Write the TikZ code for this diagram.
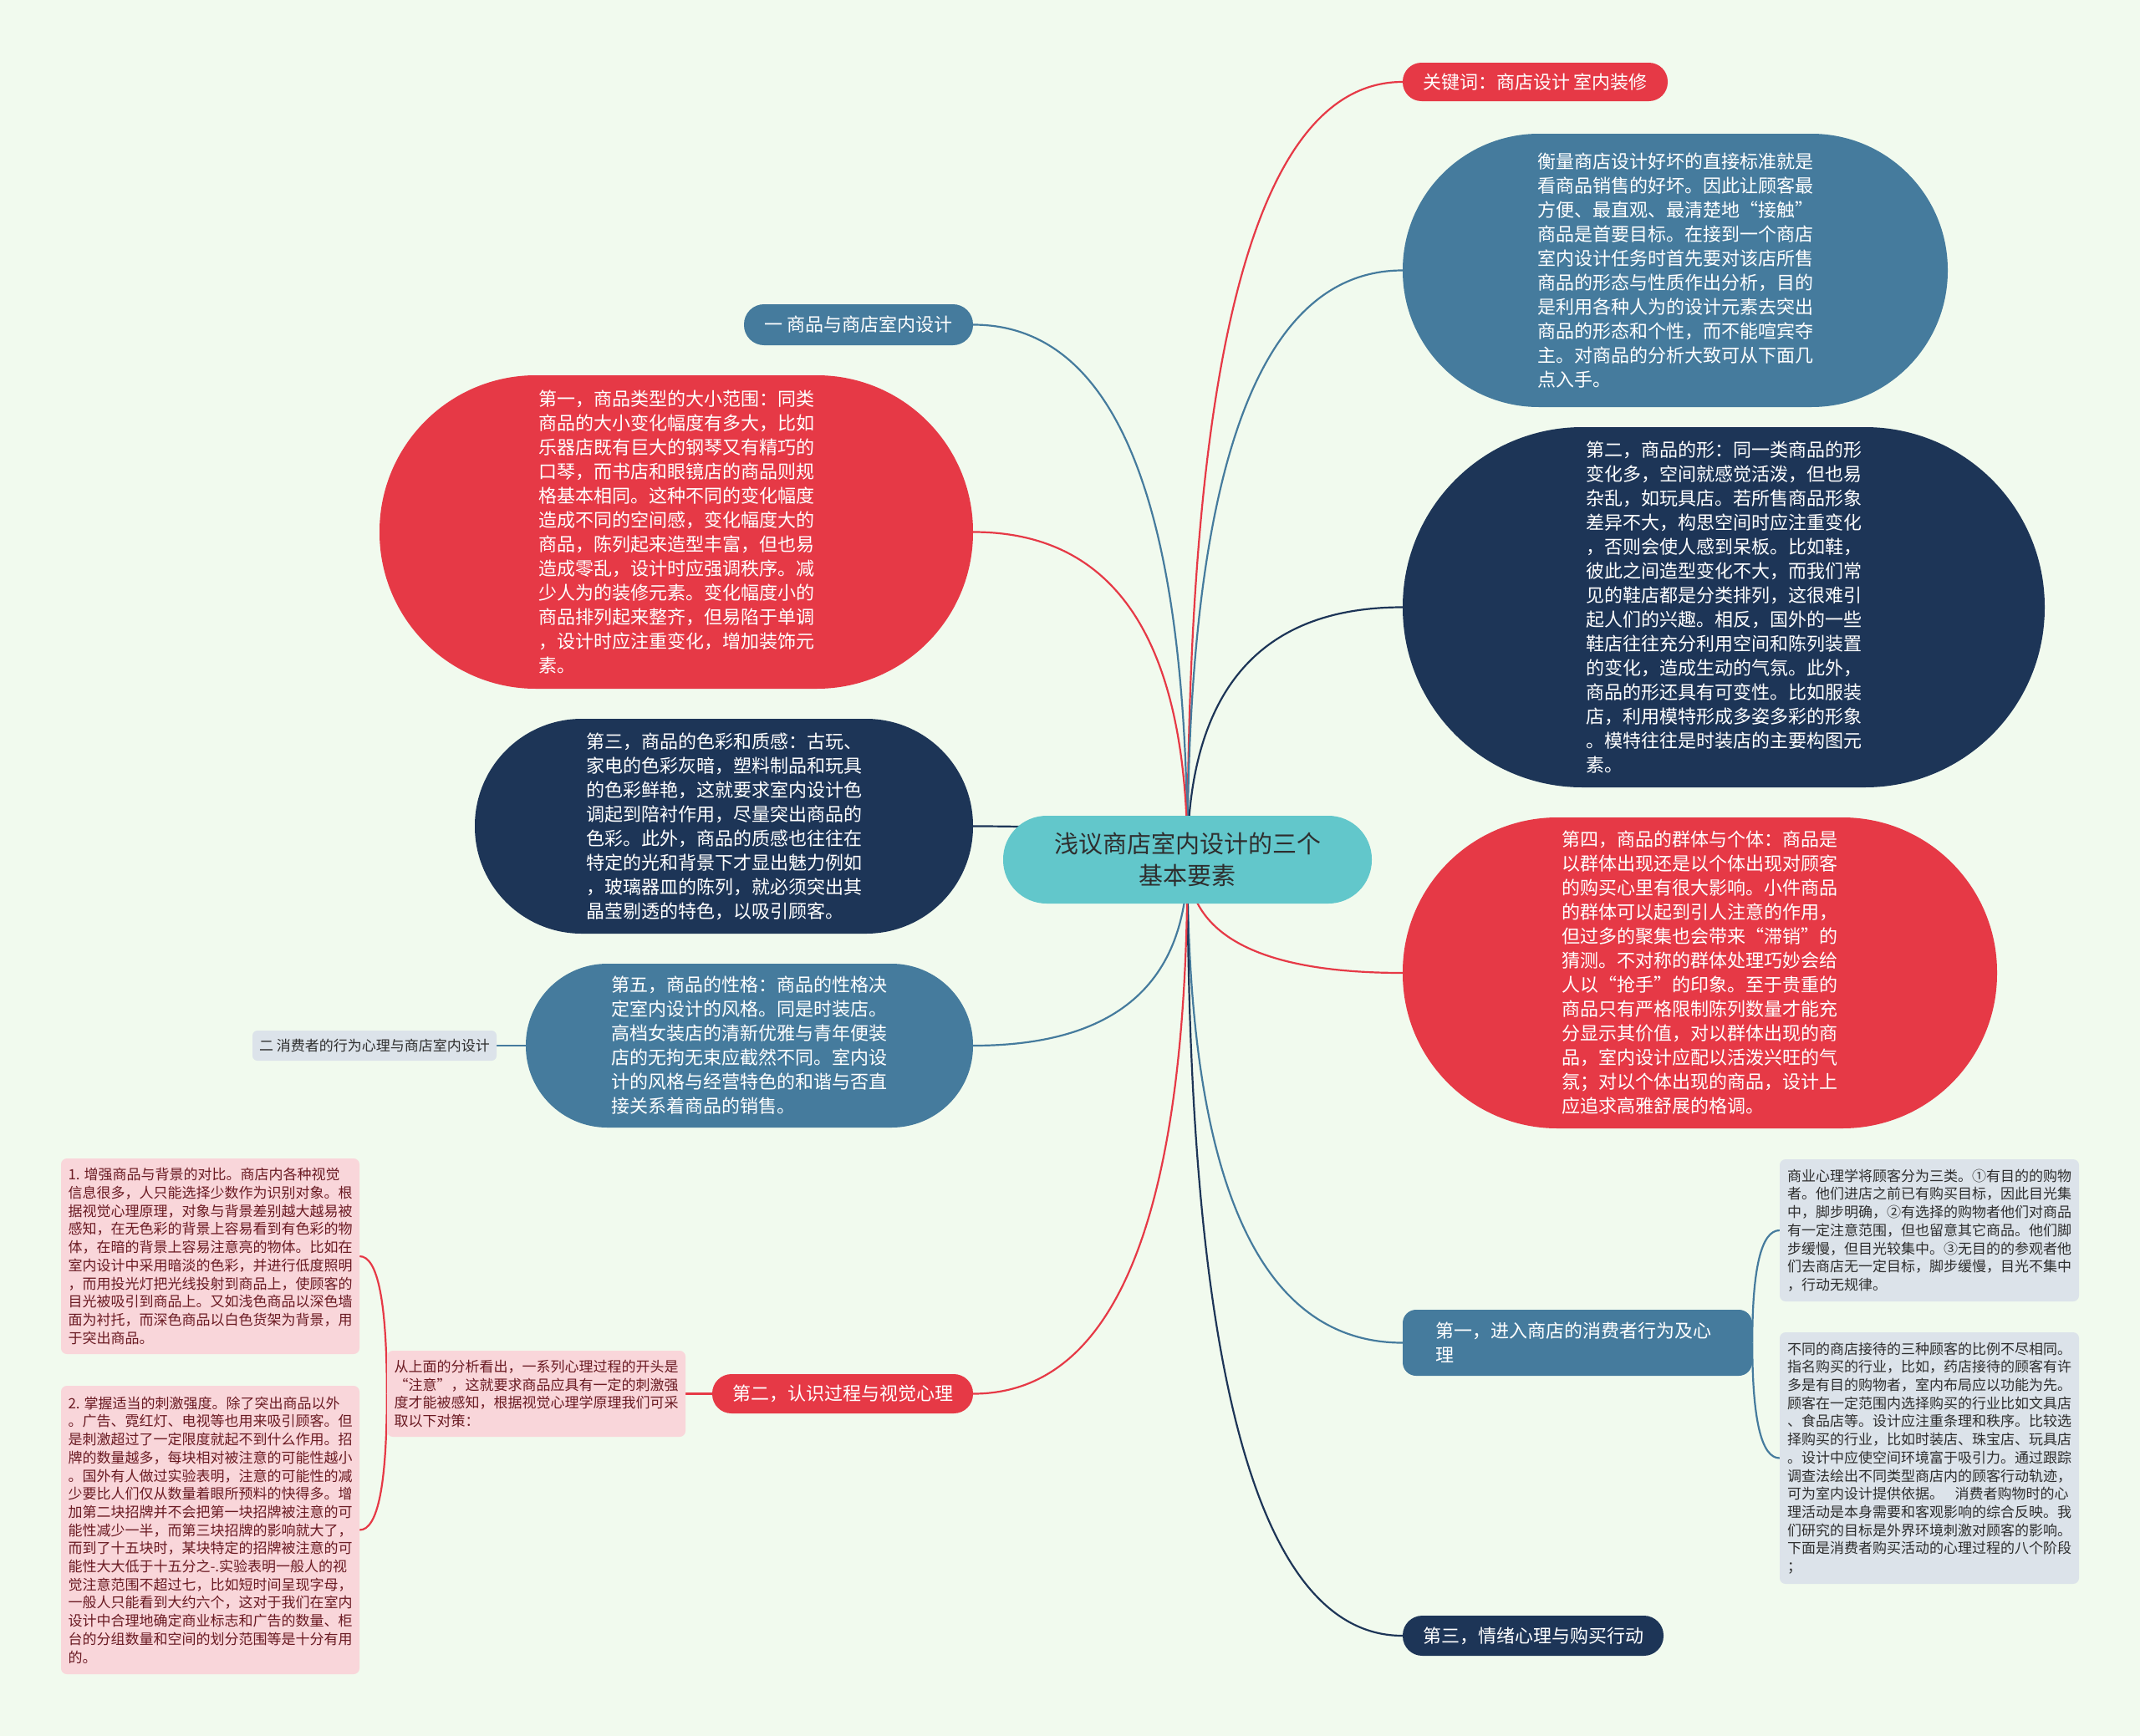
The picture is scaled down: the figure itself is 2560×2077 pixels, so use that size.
\documentclass[tikz,border=0pt]{standalone}
\usepackage{fontspec}
\setmainfont{Noto Sans CJK SC}
\usetikzlibrary{calc}
\definecolor{bgc}{HTML}{F1FAEE}
\definecolor{redc}{HTML}{E63946}
\definecolor{steelc}{HTML}{457B9D}
\definecolor{navyc}{HTML}{1D3557}
\definecolor{cyanc}{HTML}{62C7CB}
\definecolor{pinkc}{HTML}{F9D6DA}
\definecolor{pinktxt}{HTML}{6A1A22}
\definecolor{greyc}{HTML}{DCE3EA}
\definecolor{darktxt}{HTML}{2E2E2E}
\pgfdeclarelayer{back}
\pgfdeclarelayer{bg}
\pgfsetlayers{back,bg,main}
\newcommand\mmconn[3]{%
  \draw[line width=2.2pt,#1] let \p1=(#2), \p2=(#3) in
    (\p1) .. controls (\x1,{\y1+2/3*(\y2-\y1)}) and ({\x2+2/3*(\x1-\x2)},\y2) .. (\p2);}
\tikzset{
  bigtxt/.style={inner sep=0pt, align=left, text=white, font=\fontsize{22}{29}\selectfont},
  smalltxt/.style={inner sep=0pt, align=left, font=\fontsize{17}{21.7}\selectfont},
  pinkbox/.style={smalltxt, fill=pinkc, text=pinktxt, rounded corners=7pt},
  greybox/.style={smalltxt, fill=greyc, text=darktxt, rounded corners=7pt},
}
\begin{document}
\begin{tikzpicture}[x=1pt,y=-1pt]
\begin{pgfonlayer}{back}
\fill[bgc] (0,0) rectangle (2560,2077);
\end{pgfonlayer}
\useasboundingbox (0,0) rectangle (2560,2077);

% center
\node[inner sep=0pt, fill=cyanc, text=darktxt, align=center, minimum width=441pt, minimum height=105pt, rounded corners=52pt, font=\fontsize{29}{37.6}\selectfont] (ctr) at (1420.5,1028.5) {浅议商店室内设计的三个\\基本要素};

% right side
\node[bigtxt, fill=redc, minimum width=317pt, minimum height=46pt, rounded corners=22.5pt] (kw) at (1836.5,98) {关键词：商店设计 室内装修};

\node[bigtxt, fill=steelc, minimum width=652pt, minimum height=327pt, rounded corners=163pt] (heng) at (2004,323.5) {衡量商店设计好坏的直接标准就是\\看商品销售的好坏。因此让顾客最\\方便、最直观、最清楚地“接触”\\商品是首要目标。在接到一个商店\\室内设计任务时首先要对该店所售\\商品的形态与性质作出分析，目的\\是利用各种人为的设计元素去突出\\商品的形态和个性，而不能喧宾夺\\主。对商品的分析大致可从下面几\\点入手。};

\node[bigtxt, fill=navyc, minimum width=768pt, minimum height=431pt, rounded corners=215pt] (d2) at (2062,726.5) {第二，商品的形：同一类商品的形\\变化多，空间就感觉活泼，但也易\\杂乱，如玩具店。若所售商品形象\\差异不大，构思空间时应注重变化\\，否则会使人感到呆板。比如鞋，\\彼此之间造型变化不大，而我们常\\见的鞋店都是分类排列，这很难引\\起人们的兴趣。相反，国外的一些\\鞋店往往充分利用空间和陈列装置\\的变化，造成生动的气氛。此外，\\商品的形还具有可变性。比如服装\\店，利用模特形成多姿多彩的形象\\。模特往往是时装店的主要构图元\\素。};

\node[bigtxt, fill=redc, minimum width=711pt, minimum height=372pt, rounded corners=185pt] (d4) at (2033.5,1164) {第四，商品的群体与个体：商品是\\以群体出现还是以个体出现对顾客\\的购买心里有很大影响。小件商品\\的群体可以起到引人注意的作用，\\但过多的聚集也会带来“滞销”的\\猜测。不对称的群体处理巧妙会给\\人以“抢手”的印象。至于贵重的\\商品只有严格限制陈列数量才能充\\分显示其价值，对以群体出现的商\\品，室内设计应配以活泼兴旺的气\\氛；对以个体出现的商品，设计上\\应追求高雅舒展的格调。};

\node[bigtxt, fill=steelc, minimum width=418pt, minimum height=79pt, rounded corners=16pt, text width=340pt] (c1) at (1887,1606.5) {第一，进入商店的消费者行为及心\\理};

\node[bigtxt, fill=navyc, minimum width=312pt, minimum height=48pt, rounded corners=23.5pt] (c3) at (1834,1957) {第三，情绪心理与购买行动};

\node[greybox, minimum width=358pt, minimum height=170pt] (r1) at (2308,1472) {商业心理学将顾客分为三类。①有目的的购物\\者。他们进店之前已有购买目标，因此目光集\\中，脚步明确，②有选择的购物者他们对商品\\有一定注意范围，但也留意其它商品。他们脚\\步缓慢，但目光较集中。③无目的的参观者他\\们去商店无一定目标，脚步缓慢，目光不集中\\，行动无规律。};

\node[greybox, minimum width=358pt, minimum height=301pt] (r2) at (2308,1744.5) {不同的商店接待的三种顾客的比例不尽相同。\\指名购买的行业，比如，药店接待的顾客有许\\多是有目的购物者，室内布局应以功能为先。\\顾客在一定范围内选择购买的行业比如文具店\\、食品店等。设计应注重条理和秩序。比较选\\择购买的行业，比如时装店、珠宝店、玩具店\\。设计中应使空间环境富于吸引力。通过跟踪\\调查法绘出不同类型商店内的顾客行动轨迹，\\可为室内设计提供依据。\hspace{0.8em}消费者购物时的心\\理活动是本身需要和客观影响的综合反映。我\\们研究的目标是外界环境刺激对顾客的影响。\\下面是消费者购买活动的心理过程的八个阶段\\；};

% left side
\node[bigtxt, fill=steelc, minimum width=274pt, minimum height=49pt, rounded corners=24pt] (yi) at (1027,388.5) {一 商品与商店室内设计};

\node[bigtxt, fill=redc, minimum width=710pt, minimum height=375pt, rounded corners=187pt] (d1) at (809,636.5) {第一，商品类型的大小范围：同类\\商品的大小变化幅度有多大，比如\\乐器店既有巨大的钢琴又有精巧的\\口琴，而书店和眼镜店的商品则规\\格基本相同。这种不同的变化幅度\\造成不同的空间感，变化幅度大的\\商品，陈列起来造型丰富，但也易\\造成零乱，设计时应强调秩序。减\\少人为的装修元素。变化幅度小的\\商品排列起来整齐，但易陷于单调\\，设计时应注重变化，增加装饰元\\素。};

\node[bigtxt, fill=navyc, minimum width=596pt, minimum height=257pt, rounded corners=128pt] (d3) at (866,988.5) {第三，商品的色彩和质感：古玩、\\家电的色彩灰暗，塑料制品和玩具\\的色彩鲜艳，这就要求室内设计色\\调起到陪衬作用，尽量突出商品的\\色彩。此外，商品的质感也往往在\\特定的光和背景下才显出魅力例如\\，玻璃器皿的陈列，就必须突出其\\晶莹剔透的特色，以吸引顾客。};

\node[bigtxt, fill=steelc, minimum width=535pt, minimum height=196pt, rounded corners=97.5pt] (d5) at (896.5,1251) {第五，商品的性格：商品的性格决\\定室内设计的风格。同是时装店。\\高档女装店的清新优雅与青年便装\\店的无拘无束应截然不同。室内设\\计的风格与经营特色的和谐与否直\\接关系着商品的销售。};

\node[greybox, minimum width=292pt, minimum height=36pt, rounded corners=6pt] (er) at (448,1251) {二 消费者的行为心理与商店室内设计};

\node[bigtxt, fill=redc, minimum width=312pt, minimum height=47pt, rounded corners=23pt] (c2) at (1008,1667.5) {第二，认识过程与视觉心理};

\node[pinkbox, minimum width=357pt, minimum height=103pt] (pm) at (641.5,1667.5) {从上面的分析看出，一系列心理过程的开头是\\“注意”，这就要求商品应具有一定的刺激强\\度才能被感知，根据视觉心理学原理我们可采\\取以下对策：};

\node[pinkbox, minimum width=357pt, minimum height=234pt] (p1) at (251.5,1503) {1. 增强商品与背景的对比。商店内各种视觉\\信息很多，人只能选择少数作为识别对象。根\\据视觉心理原理，对象与背景差别越大越易被\\感知，在无色彩的背景上容易看到有色彩的物\\体，在暗的背景上容易注意亮的物体。比如在\\室内设计中采用暗淡的色彩，并进行低度照明\\，而用投光灯把光线投射到商品上，使顾客的\\目光被吸引到商品上。又如浅色商品以深色墙\\面为衬托，而深色商品以白色货架为背景，用\\于突出商品。};

\node[pinkbox, minimum width=357pt, minimum height=345pt] (p2) at (251.5,1830.5) {2. 掌握适当的刺激强度。除了突出商品以外\\。广告、霓红灯、电视等也用来吸引顾客。但\\是刺激超过了一定限度就起不到什么作用。招\\牌的数量越多，每块相对被注意的可能性越小\\。国外有人做过实验表明，注意的可能性的减\\少要比人们仅从数量着眼所预料的快得多。增\\加第二块招牌并不会把第一块招牌被注意的可\\能性减少一半，而第三块招牌的影响就大了，\\而到了十五块时，某块特定的招牌被注意的可\\能性大大低于十五分之-.实验表明一般人的视\\觉注意范围不超过七，比如短时间呈现字母，\\一般人只能看到大约六个，这对于我们在室内\\设计中合理地确定商业标志和广告的数量、柜\\台的分组数量和空间的划分范围等是十分有用\\的。};

% connectors
\begin{pgfonlayer}{bg}
\mmconn{redc}{ctr.center}{kw.west}
\mmconn{steelc}{ctr.center}{heng.west}
\mmconn{navyc}{ctr.center}{d2.west}
\mmconn{redc}{ctr.center}{d4.west}
\mmconn{steelc}{ctr.center}{c1.west}
\mmconn{navyc}{ctr.center}{c3.west}
\mmconn{steelc}{ctr.center}{yi.east}
\mmconn{redc}{ctr.center}{d1.east}
\mmconn{navyc}{ctr.center}{d3.east}
\mmconn{steelc}{ctr.center}{d5.east}
\mmconn{redc}{ctr.center}{c2.east}
\mmconn{steelc}{d5.west}{er.east}
\mmconn{redc}{c2.west}{pm.east}
\mmconn{redc}{pm.west}{p1.east}
\mmconn{redc}{pm.west}{p2.east}
\mmconn{steelc}{c1.east}{r1.west}
\mmconn{steelc}{c1.east}{r2.west}
\end{pgfonlayer}
\end{tikzpicture}
\end{document}
